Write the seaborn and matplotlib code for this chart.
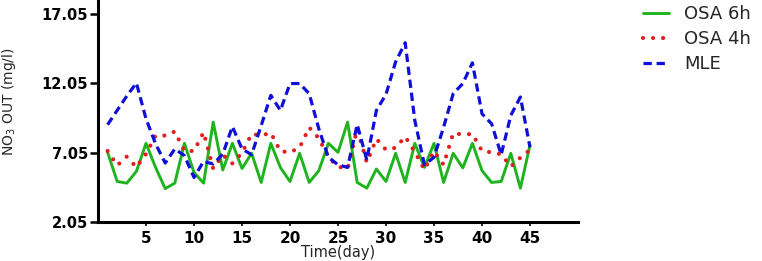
import numpy as np
import pandas as pd
import seaborn as sns
import matplotlib
matplotlib.use("Agg")
import matplotlib.pyplot as plt

days = list(range(1, 46))
osa_6h = [7.07, 4.97, 4.85, 5.70, 7.72, 5.98, 4.46, 4.85, 7.72, 5.62,
          4.85, 9.25, 5.80, 7.72, 5.91, 7.00, 4.90, 7.72, 5.98, 4.97,
          7.00, 4.90, 5.75, 7.72, 7.07, 9.25, 4.90, 4.49, 5.87, 4.97,
          7.00, 4.90, 7.72, 5.98, 7.72, 4.90, 7.00, 5.95, 7.72, 5.75,
          4.90, 4.97, 7.00, 4.49, 7.60]
osa_4h = [7.17, 6.13, 6.76, 6.00, 6.95, 8.28, 8.28, 8.57, 7.17, 7.17,
          8.52, 5.90, 6.88, 6.27, 7.03, 8.40, 8.28, 8.48, 7.15, 7.07,
          7.41, 8.86, 8.09, 6.71, 6.04, 5.89, 8.74, 6.35, 8.04, 7.25,
          7.40, 8.20, 7.10, 5.82, 7.15, 6.18, 8.45, 8.35, 8.40, 7.17,
          7.07, 6.93, 6.05, 6.69, 7.25]
mle = [9.06, 10.10, 11.13, 12.07, 9.49, 7.68, 6.30, 7.32, 6.83, 5.26,
       6.42, 6.23, 6.95, 8.93, 7.32, 6.90, 9.00, 11.18, 10.09, 12.03,
       12.03, 11.30, 8.77, 6.71, 6.18, 5.98, 9.08, 6.52, 10.09, 11.25,
       13.59, 14.97, 9.37, 6.18, 6.71, 8.88, 11.30, 12.03, 13.52, 9.85,
       9.13, 6.90, 9.73, 11.06, 7.43]

series_names = ["OSA 6h", "OSA 4h", "MLE"]
y_ticks = [2.05, 7.05, 12.05, 17.05]
x_ticks = [5, 10, 15, 20, 25, 30, 35, 40, 45]

df = pd.DataFrame({"day": days, "OSA 6h": osa_6h, "OSA 4h": osa_4h, "MLE": mle})

sns.set_style("white")
plt.rcParams['font.family'] = ['DejaVu Sans']

fig = plt.figure(figsize=(7.62, 2.61), dpi=100)
ax = fig.add_axes([98 / 762, 1 - 222 / 261, 480 / 762, 222 / 261])

sns.lineplot(data=df, x="day", y="OSA 6h", ax=ax, color="#1FB41F",
             linewidth=2.1, label=series_names[0])
sns.lineplot(data=df, x="day", y="OSA 4h", ax=ax, color="#E41E1E",
             linewidth=3.0, linestyle=(0, (0.01, 2.4)),
             dash_capstyle="round", label=series_names[1])
sns.lineplot(data=df, x="day", y="MLE", ax=ax, color="#0F0FD8",
             linewidth=2.3, linestyle=(0, (2.6, 1.5)), label=series_names[2])

ax.set_xlim(0, 50)
ax.set_ylim(2.05, 18.05)
ax.set_xticks(x_ticks)
ax.set_yticks(y_ticks)
ax.set_yticklabels([f"{v:.2f}" for v in y_ticks])
ax.set_xticklabels([str(v) for v in x_ticks])

for s in ["top", "right"]:
    ax.spines[s].set_visible(False)
for s in ["left", "bottom"]:
    ax.spines[s].set_linewidth(2.2)
    ax.spines[s].set_color("black")

ax.tick_params(axis="y", which="major", direction="out", length=6, width=1.8,
               pad=1, labelsize=10.5, left=True, colors="black")
ax.tick_params(axis="x", which="major", direction="out", length=3, width=1.2,
               pad=3.5, labelsize=11, bottom=True, colors="black")
for lab in ax.get_xticklabels() + ax.get_yticklabels():
    lab.set_fontweight("bold")

ax.set_xlabel("Time(day)", fontsize=10.5)
ax.xaxis.set_label_coords(0.5, -0.104)
ax.xaxis.label.set_va("top")
ax.set_ylabel("NO$_3$ OUT (mg/l)", fontsize=10)
ax.yaxis.set_label_coords(-0.167, 0.543)
ax.grid(False)

ax.legend(loc="upper left", bbox_to_anchor=(643 / 762, 1 - 5 / 261),
          bbox_transform=fig.transFigure, frameon=False, fontsize=13,
          handlelength=1.45, handletextpad=0.83, labelspacing=0.39,
          borderpad=0, borderaxespad=0)

fig.savefig("out.png", dpi=100)
